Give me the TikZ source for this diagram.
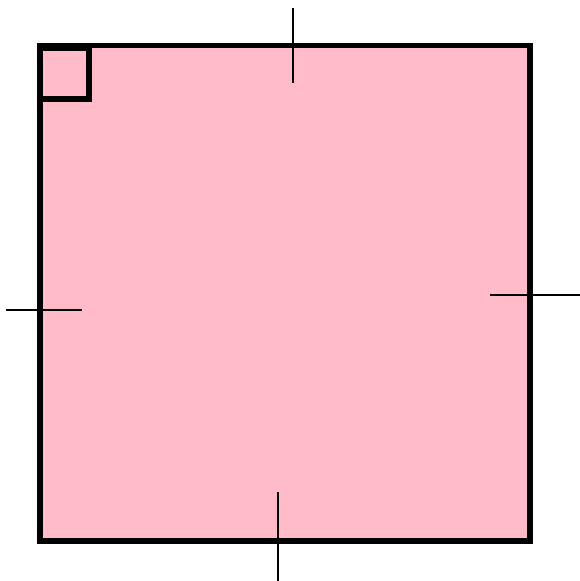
\documentclass[tikz,border=0pt]{standalone}
\definecolor{sqpink}{RGB}{255,188,200}
\begin{document}
\begin{tikzpicture}[x=1pt,y=-1pt,
  edge/.style={line width=5.5pt,line join=miter},
  tick/.style={line width=1.8pt}]
\useasboundingbox (0,0) rectangle (580,581);
\draw[edge,fill=sqpink] (40,45.5) rectangle (530,541);
\draw[edge] (40,48.5) rectangle (89,99);
\draw[tick] (293.3,8) -- (293.3,83);
\draw[tick] (6,310.3) -- (82,310.3);
\draw[tick] (490,295) -- (580,295);
\draw[tick] (278.3,492) -- (278.3,581);
\end{tikzpicture}
\end{document}
